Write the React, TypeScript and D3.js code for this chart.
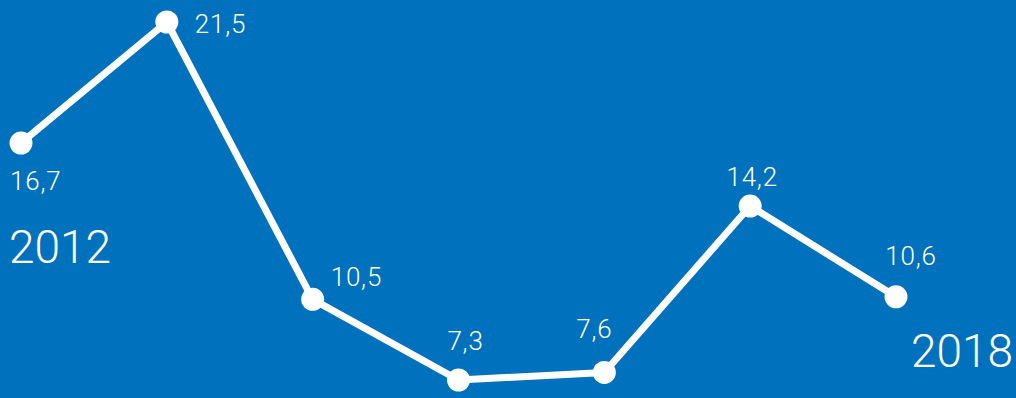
import React from "react";
import * as d3 from "d3";

const years = [2012, 2013, 2014, 2015, 2016, 2017, 2018];
const values = [16.7, 21.5, 10.5, 7.3, 7.6, 14.2, 10.6];
const valueLabels = ["16,7", "21,5", "10,5", "7,3", "7,6", "14,2", "10,6"];
const endLabels = ["2012", "2018"];

// label placement relative to point: [dx, dy, anchor]
const labelPlacement: [number, number, string][] = [
  [-11, 47, "start"],
  [28, 11, "start"],
  [18, -13, "start"],
  [7, -30, "middle"],
  [-10, -34, "middle"],
  [2, -20, "middle"],
  [15, -32, "middle"],
];

const W = 1016;
const H = 398;
const BG = "#0071bc";

export default function App() {
  const x = d3.scaleLinear().domain([0, years.length - 1]).range([21, 896]);
  const y = d3.scaleLinear().domain([21.5, 7.3]).range([22, 380]);
  const line = d3
    .line<number>()
    .x((_, i) => x(i))
    .y((d) => y(d));
  const font = "Roboto, 'Liberation Sans', sans-serif";
  return (
    <div style={{ position: "fixed", left: 0, top: 0, width: W, height: H }}>
      <svg width={W} height={H} style={{ display: "block" }}>
        <rect width={W} height={H} fill={BG} />
        <path
          d={line(values) || ""}
          fill="none"
          stroke="#fff"
          strokeWidth={7}
          strokeLinejoin="round"
        />
        {values.map((v, i) => (
          <circle key={i} cx={x(i)} cy={y(v)} r={11.5} fill="#fff" />
        ))}
        {values.map((v, i) => (
          <text
            key={"l" + i}
            x={x(i) + labelPlacement[i][0]}
            y={y(v) + labelPlacement[i][1]}
            textAnchor={labelPlacement[i][2] as any}
            fill="#fff"
            fontFamily={font}
            fontWeight={300}
            fontSize={26}
            letterSpacing={0.8}
          >
            {valueLabels[i]}
          </text>
        ))}
        <text x={9} y={263} fill="#fff" fontFamily={font} fontWeight={300} fontSize={46}>
          {endLabels[0]}
        </text>
        <text x={1013} y={367} textAnchor="end" fill="#fff" fontFamily={font} fontWeight={300} fontSize={46}>
          {endLabels[1]}
        </text>
      </svg>
    </div>
  );
}
